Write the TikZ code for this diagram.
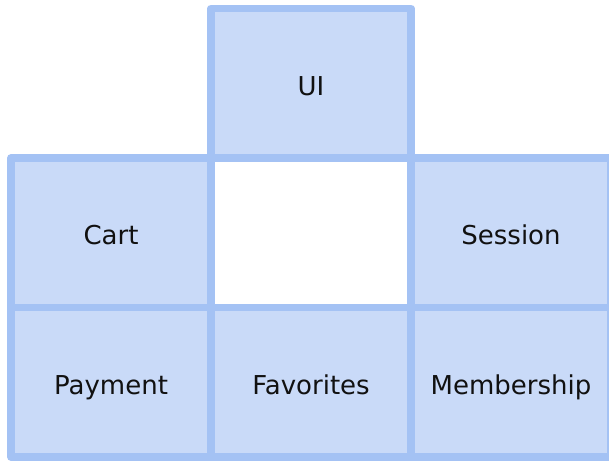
\documentclass[tikz,border=0pt]{standalone}
\usepackage{fontspec}
\setmainfont{DejaVu Sans}
\usetikzlibrary{positioning}
\definecolor{cellfill}{HTML}{C9DAF8}
\definecolor{cellline}{HTML}{A4C2F4}
\definecolor{celltext}{HTML}{111111}
\begin{document}
\begin{tikzpicture}[
  cell/.style={draw=cellline,fill=cellfill,line width=7.7pt,line join=round,
    minimum width=200pt,minimum height=149.5pt,outer sep=0pt,inner sep=0pt,
    text height=24.7pt,text depth=0.8pt,
    text=celltext,font=\fontsize{26}{30}\selectfont}]
\useasboundingbox (0,0) rectangle (609pt,-461pt);

% middle row, the centre cell stays empty
\node[cell] (cart) at (111pt,-232.75pt) {Cart};
\node[cell,right=200pt of cart] (session) {Session};
% top
\node[cell,anchor=south west] (ui) at (cart.north east) {UI};
% bottom row
\node[cell,below=0pt of cart] (payment) {Payment};
\node[cell,right=0pt of payment] (favorites) {Favorites};
\node[cell,right=0pt of favorites] (membership) {Membership};
\end{tikzpicture}
\end{document}
